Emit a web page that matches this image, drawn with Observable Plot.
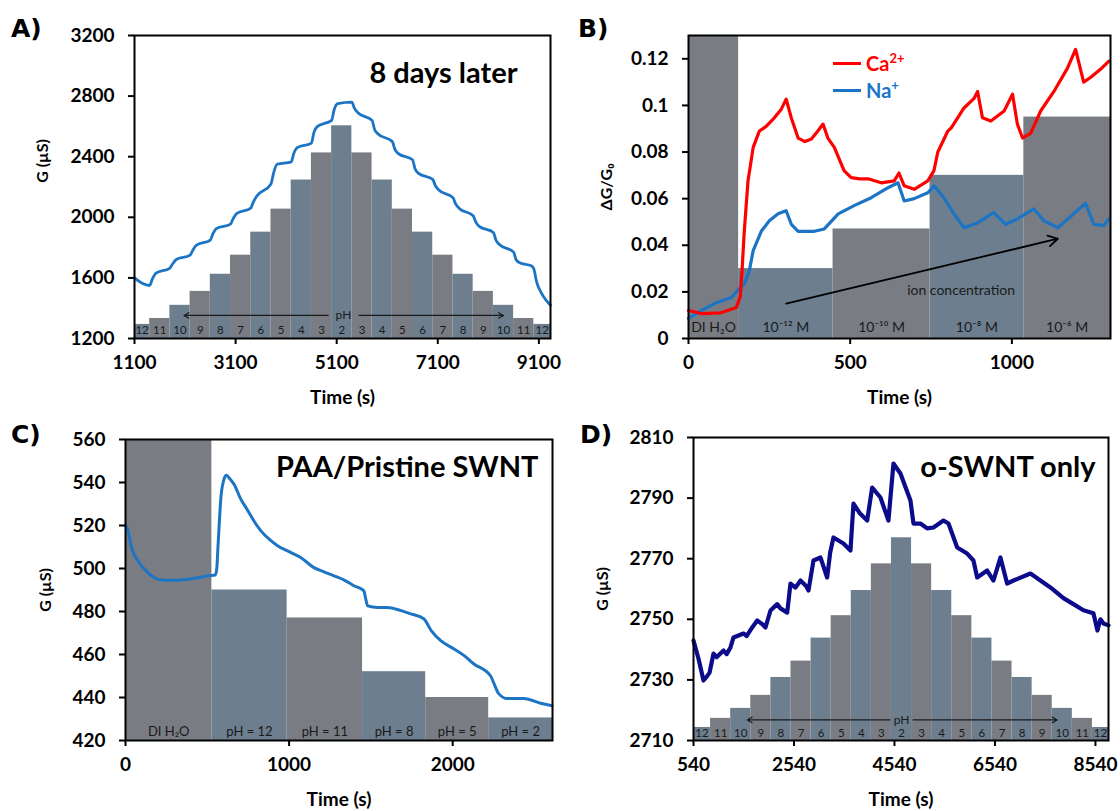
<!DOCTYPE html>
<html><head><meta charset="utf-8">
<script src="https://cdn.jsdelivr.net/npm/d3@7"></script>
<script src="https://cdn.jsdelivr.net/npm/@observablehq/plot@0.6"></script>
<style>
body{margin:0;background:#fff;}
#root{position:relative;width:1120px;height:811px;overflow:hidden;font-family:Lato,'Open Sans',sans-serif;}
.panel{position:absolute;}
.plab{position:absolute;font-family:'DejaVu Sans',sans-serif;font-weight:bold;font-size:25px;color:#000;}
.leg{position:absolute;font-weight:bold;font-size:20px;font-family:Lato,sans-serif;}
.leg sup{font-size:13px;vertical-align:8px;line-height:0;}
</style>
</head><body><div id="root"></div>
<script>
// ---------- Panel A ----------
const phLabels = ["12","11","10","9","8","7","6","5","4","3","2","3","4","5","6","7","8","9","10","11","12"];
const stepStartA = [1000,1400,1800,2200,2600,3000,3400,3800,4200,4600,5000,5400,5800,6200,6600,7000,7400,7800,8200,8600,9000];
const stepEndA   = [1400,1800,2200,2600,3000,3400,3800,4200,4600,5000,5400,5800,6200,6600,7000,7400,7800,8200,8600,9000,9400];
const stepHeightA = [1293,1332,1419,1511,1624,1750,1902,2054,2246,2425,2604,2425,2246,2054,1902,1750,1624,1511,1419,1332,1293];
const lineA = [[1100,1600],[1250,1565],[1400,1550],[1450,1590],[1520,1630],[1800,1665],[1850,1690],[1920,1720],[2200,1750],[2250,1780],[2320,1815],[2600,1850],[2650,1890],[2720,1925],[3000,1955],[3050,1990],[3120,2025],[3400,2060],[3450,2100],[3520,2140],[3800,2220],[3850,2290],[3920,2350],[4200,2365],[4250,2420],[4320,2460],[4600,2490],[4650,2560],[4720,2600],[5000,2640],[5050,2710],[5120,2750],[5400,2760],[5450,2720],[5520,2690],[5800,2640],[5850,2580],[5920,2550],[6200,2500],[6250,2450],[6320,2420],[6600,2380],[6650,2320],[6720,2290],[7000,2250],[7050,2210],[7120,2180],[7400,2130],[7450,2090],[7520,2060],[7800,2010],[7850,1970],[7920,1940],[8200,1900],[8250,1850],[8320,1820],[8600,1770],[8650,1720],[8720,1700],[8950,1680],[9000,1660],[9050,1580],[9150,1500],[9250,1450],[9330,1420]];
const xDomainA = [1100, 9330], yDomainA = [1200, 3200];
const xTicksA = [1100,3100,5100,7100,9100];
const yTicksA = [1200,1600,2000,2400,2800,3200];
const phArrowsA = [{x1:4930,x2:2080,y:1352},{x1:5540,x2:8400,y:1352}];
const phTextA = [{x:5234,y:1352}];

// ---------- Panel B ----------
const concLabels = ["DI H\u2082O","10\u207B\u00B9\u00B2 M","10\u207B\u00B9\u2070 M","10\u207B\u2078 M","10\u207B\u2076 M"];
const concStart = [0,155,447,747,1037];
const concEnd   = [155,447,747,1037,1305];
const concHeight = [0.13,0.030,0.047,0.070,0.095];
const lineCa = [[0,0.012],[40,0.0107],[100,0.011],[148,0.0133],[160,0.018],[166,0.03],[172,0.045],[184,0.0676],[200,0.082],[219,0.089],[240,0.091],[261,0.094],[287,0.0984],[302,0.1027],[318,0.0946],[339,0.086],[360,0.0845],[380,0.0856],[400,0.089],[416,0.092],[431,0.086],[451,0.082],[481,0.072],[503,0.069],[530,0.0685],[555,0.0685],[596,0.0668],[636,0.0676],[651,0.071],[667,0.0655],[698,0.064],[740,0.0676],[759,0.072],[771,0.080],[802,0.089],[812,0.0903],[852,0.0989],[883,0.103],[894,0.106],[909,0.0947],[935,0.0933],[976,0.0976],[1002,0.1048],[1017,0.092],[1033,0.086],[1058,0.088],[1089,0.0976],[1130,0.106],[1172,0.116],[1197,0.124],[1222,0.110],[1243,0.112],[1274,0.1155],[1300,0.119]];
const lineNa = [[0,0.0086],[40,0.012],[80,0.015],[133,0.0176],[157,0.0214],[173,0.0235],[188,0.029],[200,0.0377],[225,0.046],[250,0.0505],[277,0.0535],[302,0.0548],[318,0.049],[339,0.046],[389,0.046],[420,0.047],[463,0.0535],[512,0.057],[565,0.0604],[617,0.0647],[648,0.0668],[667,0.059],[698,0.060],[740,0.0625],[759,0.0655],[790,0.0604],[821,0.0535],[852,0.0475],[895,0.0497],[944,0.054],[981,0.049],[1018,0.0514],[1068,0.0556],[1099,0.0505],[1142,0.0475],[1191,0.0535],[1228,0.058],[1253,0.049],[1284,0.0484],[1300,0.0514]];
const xDomainB = [0, 1305], yDomainB = [0, 0.13];
const xTicksB = [0,500,1000];
const yTicksB = [0,0.02,0.04,0.06,0.08,0.1,0.12];
const ionArrowB = [{x1:302,y1:0.015,x2:1142,y2:0.0428}];
const ionTextB = [{x:843,y:0.0205,text:"ion concentration"}];

// ---------- Panel C ----------
const phStepLabelsC = ["DI H\u2082O","pH = 12","pH = 11","pH = 8","pH = 5","pH = 2"];
const stepStartC = [0,528,988,1449,1835,2220];
const stepEndC   = [528,988,1449,1835,2220,2610];
const stepHeightC = [560,490,477,452,440,430.5];
const lineC = [[0,520],[12,518.4],[37,509.7],[77,503.5],[138,498],[220,494.7],[300,494.5],[382,495],[450,495.8],[504,496.6],[549,497],[558,500],[565,509.7],[585,534.6],[600,541],[616,543.4],[640,541.5],[665,539],[700,533],[748,526.9],[790,521.5],[829,517.4],[880,513.5],[931,510.5],[1012,507.4],[1073,505],[1152,500.4],[1210,498.5],[1274,496.6],[1340,494.5],[1396,492],[1457,489.6],[1468,486],[1480,482.6],[1541,481.9],[1602,481.9],[1680,480.5],[1744,478.9],[1823,476.6],[1870,471],[1927,466.4],[2006,462.7],[2070,459.5],[2128,455.7],[2232,450],[2255,446],[2281,441.8],[2333,439.5],[2435,439.5],[2537,437.3],[2608,436.2]];
const xDomainC = [0, 2610], yDomainC = [420, 560];
const xTicksC = [0,1000,2000];
const yTicksC = [420,440,460,480,500,520,540,560];

// ---------- Panel D ----------
const stepStartD = [480,880,1280,1680,2080,2480,2880,3280,3680,4080,4480,4880,5280,5680,6080,6480,6880,7280,7680,8080,8480];
const stepEndD   = [880,1280,1680,2080,2480,2880,3280,3680,4080,4480,4880,5280,5680,6080,6480,6880,7280,7680,8080,8480,8880];
const stepHeightD = [2714.3,2717.3,2720.6,2724.9,2730.8,2736.2,2743.8,2751.2,2759.5,2768.3,2776.9,2768.3,2759.5,2751.2,2743.8,2736.2,2730.8,2724.9,2720.6,2717.3,2714.3];
const lineD = [[540,2743],[640,2737],[739,2729.8],[800,2731],[860,2732.4],[938,2738.7],[1000,2737.5],[1137,2739.7],[1200,2738.5],[1276,2740.7],[1336,2744],[1535,2745.3],[1600,2744.5],[1708,2747.3],[1808,2749.6],[1900,2748.5],[1973,2747.3],[2072,2752.9],[2206,2755],[2271,2753.6],[2405,2752.2],[2470,2761.8],[2570,2760.5],[2670,2762.8],[2780,2761],[2829,2759.5],[2928,2769.4],[3067,2770.4],[3200,2763.8],[3260,2772],[3326,2777],[3525,2775],[3664,2772.7],[3724,2788.2],[3850,2785],[3997,2782.6],[4096,2793.5],[4261,2790.2],[4420,2782.6],[4470,2792],[4520,2801.4],[4659,2798.1],[4858,2789.2],[4918,2781.6],[5057,2781.6],[5190,2780],[5316,2780.3],[5515,2782.6],[5615,2781.6],[5788,2773.7],[5987,2771.7],[6112,2769.4],[6186,2763.8],[6385,2766.1],[6510,2762.8],[6649,2770.4],[6782,2761.8],[6908,2762.8],[7246,2765.1],[7445,2762.8],[7644,2760.5],[7903,2757],[8102,2755],[8301,2753],[8500,2752],[8580,2746.3],[8639,2750],[8700,2748.6],[8800,2748]];
const xDomainD = [540, 8800], yDomainD = [2710, 2810];
const xTicksD = [540,2540,4540,6540,8540];
const yTicksD = [2710,2730,2750,2770,2790,2810];
const phArrowsD = [{x1:4450,x2:1610,y:2716.8},{x1:4910,x2:7777,y:2716.8}];
const phTextD = [{x:4680,y:2716.8}];

// ---------- styling ----------
const FONT = "Lato, 'Open Sans', sans-serif";
const GRAY = "#797d83", SLATE = "#6d7e8f";
const BLUE = "#1b74c4", RED = "#ff0000", NAVY = "#0b0b8c";
const root = document.getElementById("root");

function makeBars(starts, ends, heights, labels, xDom, slateEven) {
  return starts.map((t0, i) => ({
    x1: Math.max(t0, xDom[0]), x2: Math.min(ends[i], xDom[1]),
    h: heights[i], label: labels[i], slate: (i % 2 === 0) === slateEven
  }));
}
function barMarks(bars, base, labelSize, labelDy) {
  return [
    Plot.rect(bars, {filter: d => d.slate, x1: "x1", x2: "x2", y1: base, y2: "h", fill: SLATE}),
    Plot.rect(bars, {filter: d => !d.slate, x1: "x1", x2: "x2", y1: base, y2: "h", fill: GRAY}),
    Plot.text(bars, {x: d => (d.x1 + d.x2) / 2, y: base, dy: labelDy, text: "label", fontSize: labelSize, fill: "#1a1a1a", fontFamily: FONT})
  ];
}
function axisMarks(xt, yt, xfmt, yfmt, xlabel, ylabel, ylabDx, ylabDy) {
  return [
    Plot.axisX({ticks: xt, tickFormat: xfmt, tickSize: 6, tickPadding: 11, strokeWidth: 2, fontSize: 19, fontWeight: "bold", label: null}),
    Plot.axisY({ticks: yt, tickFormat: yfmt, tickSize: 6, tickPadding: 14, strokeWidth: 2, fontSize: 19, fontWeight: "bold", label: null}),
    Plot.frame({stroke: "black", strokeWidth: 2}),
    Plot.text([xlabel], {frameAnchor: "bottom", dy: 59, lineAnchor: "middle", fontSize: 19, fontWeight: "bold"}),
    Plot.text([ylabel], {frameAnchor: "left", dx: ylabDx, dy: ylabDy, rotate: -90, textAnchor: "middle", lineAnchor: "middle", fontSize: 16, fontWeight: "bold"})
  ];
}
function addPanel(left, top, opts) {
  const svg = Plot.plot(Object.assign({
    width: 560, height: 405,
    style: {fontFamily: FONT, background: "transparent", overflow: "visible", color: "black"}
  }, opts));
  const div = document.createElement("div");
  div.className = "panel";
  div.style.left = left + "px"; div.style.top = top + "px";
  div.appendChild(svg);
  root.appendChild(div);
}
function addHTML(html) { root.insertAdjacentHTML("beforeend", html); }
const intFmt = d3.format("d");
const bFmt = d => String(+d.toFixed(2));

// Panel A
const barsA = makeBars(stepStartA, stepEndA, stepHeightA, phLabels, xDomainA, true);
addPanel(0, 0, {
  marginLeft: 134, marginRight: 10, marginTop: 35, marginBottom: 67,
  x: {domain: xDomainA}, y: {domain: yDomainA},
  marks: [
    ...barMarks(barsA, yDomainA[0], 11.5, -8),
    Plot.arrow(phArrowsA, {x1: "x1", x2: "x2", y1: "y", y2: "y", stroke: "#1a1a1a", strokeWidth: 1.2, headLength: 7}),
    Plot.text(phTextA, {x: "x", y: "y", text: () => "pH", fontSize: 12, fill: "#1a1a1a"}),
    Plot.line(lineA, {x: d => d[0], y: d => d[1], stroke: BLUE, strokeWidth: 2.8, curve: "monotone-x"}),
    Plot.text(["8 days later"], {frameAnchor: "top-right", dx: -33, dy: 38, textAnchor: "end", lineAnchor: "middle", fontSize: 29, fontWeight: "bold"}),
    ...axisMarks(xTicksA, yTicksA, intFmt, intFmt, "Time (s)", "G (\u00B5S)", -92, -26)
  ]
});

// Panel B
const barsB = makeBars(concStart, concEnd, concHeight, concLabels, xDomainB, false);
addPanel(560, 0, {
  marginLeft: 128, marginRight: 10, marginTop: 35, marginBottom: 67,
  x: {domain: xDomainB}, y: {domain: yDomainB},
  marks: [
    ...barMarks(barsB, 0, 14, -11),
    Plot.arrow(ionArrowB, {x1: "x1", y1: "y1", x2: "x2", y2: "y2", stroke: "black", strokeWidth: 1.8, headLength: 9, bend: 0}),
    Plot.text(ionTextB, {x: "x", y: "y", text: "text", fontSize: 14, fill: "#1a1a1a"}),
    Plot.line(lineNa, {x: d => d[0], y: d => d[1], stroke: BLUE, strokeWidth: 3.2}),
    Plot.line(lineCa, {x: d => d[0], y: d => d[1], stroke: RED, strokeWidth: 3.2}),
    ...axisMarks(xTicksB, yTicksB, intFmt, bFmt, "Time (s)", "\u0394G/G\u2080", -82, 0)
  ]
});

// Panel C
const barsC = makeBars(stepStartC, stepEndC, stepHeightC, phStepLabelsC, xDomainC, false);
addPanel(0, 405, {
  marginLeft: 125, marginRight: 8, marginTop: 34, marginBottom: 70,
  x: {domain: xDomainC}, y: {domain: yDomainC},
  marks: [
    ...barMarks(barsC, yDomainC[0], 13, -9),
    Plot.line(lineC, {x: d => d[0], y: d => d[1], stroke: BLUE, strokeWidth: 3, curve: "monotone-x"}),
    Plot.text(["PAA/Pristine SWNT"], {frameAnchor: "top-right", dx: -14, dy: 28, textAnchor: "end", lineAnchor: "middle", fontSize: 29, fontWeight: "bold"}),
    ...axisMarks(xTicksC, yTicksC, intFmt, intFmt, "Time (s)", "G (\u00B5S)", -80, 0)
  ]
});

// Panel D
const barsD = makeBars(stepStartD, stepEndD, stepHeightD, phLabels, xDomainD, true);
addPanel(560, 405, {
  marginLeft: 133, marginRight: 12, marginTop: 32, marginBottom: 70,
  x: {domain: xDomainD}, y: {domain: yDomainD},
  marks: [
    ...barMarks(barsD, yDomainD[0], 11.5, -7),
    Plot.arrow(phArrowsD, {x1: "x1", x2: "x2", y1: "y", y2: "y", stroke: "#1a1a1a", strokeWidth: 1.2, headLength: 7}),
    Plot.text(phTextD, {x: "x", y: "y", text: () => "pH", fontSize: 12, fill: "#1a1a1a"}),
    Plot.line(lineD, {x: d => d[0], y: d => d[1], stroke: NAVY, strokeWidth: 4.2, strokeLinejoin: "round"}),
    Plot.text(["o-SWNT only"], {frameAnchor: "top-right", dx: -13, dy: 30, textAnchor: "end", lineAnchor: "middle", fontSize: 29, fontWeight: "bold"}),
    ...axisMarks(xTicksD, yTicksD, intFmt, intFmt, "Time (s)", "G (\u00B5S)", -91, 0)
  ]
});

// Panel letters and legend (layout annotations)
addHTML('<div class="plab" style="left:11px;top:14px">A)</div>');
addHTML('<div class="plab" style="left:578px;top:14px">B)</div>');
addHTML('<div class="plab" style="left:11px;top:420px">C)</div>');
addHTML('<div class="plab" style="left:580px;top:420px">D)</div>');
addHTML('<div style="position:absolute;left:833px;top:62px;width:28px;height:3px;background:' + RED + '"></div>');
addHTML('<div class="leg" style="left:866px;top:51px;color:' + RED + '">Ca<sup>2+</sup></div>');
addHTML('<div style="position:absolute;left:833px;top:89px;width:28px;height:3px;background:' + BLUE + '"></div>');
addHTML('<div class="leg" style="left:866px;top:78px;color:' + BLUE + '">Na<sup>+</sup></div>');
</script>
</body></html>
